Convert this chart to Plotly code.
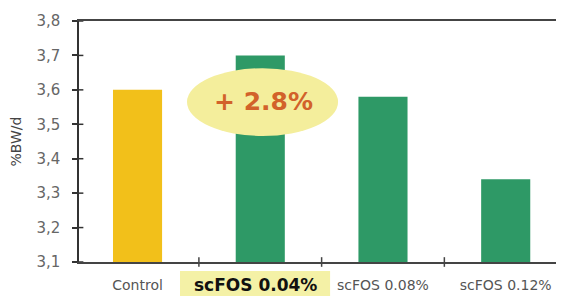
import plotly.graph_objects as go

categories = ["Control", "scFOS 0.04%", "scFOS 0.08%", "scFOS 0.12%"]
values = [3.60, 3.70, 3.58, 3.34]
bar_colors = ["#F2C01A", "#2E9966", "#2E9966", "#2E9966"]
y_ticks = [3.1, 3.2, 3.3, 3.4, 3.5, 3.6, 3.7, 3.8]
y_tick_labels = ["3,1", "3,2", "3,3", "3,4", "3,5", "3,6", "3,7", "3,8"]
x_tick_labels = ["Control", "", "scFOS 0.08%", "scFOS 0.12%"]
highlight_label = "scFOS 0.04%"
badge_text = "+ 2.8%"
y_title = "%BW/d"

xpos = list(range(len(categories)))

fig = go.Figure()
fig.add_trace(go.Bar(x=xpos, y=values, marker=dict(color=bar_colors, line=dict(width=0)),
                     width=0.4))

# page body has an 8px default margin, so figure is 8px smaller and offset
fig.update_layout(
    width=556, height=288,
    margin=dict(l=71, r=0, t=13, b=34, autoexpand=False),
    paper_bgcolor="white", plot_bgcolor="white",
    showlegend=False,
    font=dict(family="DejaVu Sans", size=14, color="#555555"),
)
fig.update_xaxes(
    range=[-0.477, 3.475], automargin=False,
    tickmode="array", tickvals=xpos, ticktext=x_tick_labels,
    showline=True, linecolor="#444444", linewidth=1.5, mirror=True,
    ticks="", showgrid=False, zeroline=False,
    ticklabelstandoff=9,
    tickfont=dict(family="DejaVu Sans", size=14, color="#555555"),
)
fig.update_yaxes(
    range=[3.1, 3.8], automargin=False,
    tickmode="array", tickvals=y_ticks, ticktext=y_tick_labels,
    showline=True, linecolor="#333333", linewidth=1.5,
    ticks="outside", ticklen=5, tickcolor="#333333", tickwidth=1.5,
    ticklabelstandoff=9,
    showgrid=False, zeroline=False,
    tickfont=dict(family="DejaVu Sans", size=15, color="#666666"),
)

# y-axis title
fig.add_annotation(x=-0.13, y=0.5, xref="paper", yref="paper", xanchor="center", yanchor="middle",
                   text=y_title, textangle=-90,
                   showarrow=False, font=dict(family="DejaVu Sans", size=14, color="#444444"))

# inner halves of y ticks (ticks cross the axis)
for t in y_ticks:
    fig.add_shape(type="line", xref="paper", yref="y", x0=0, x1=0.009, y0=t, y1=t,
                  line=dict(color="#333333", width=1.5))

# category boundary ticks on x axis
for b in [0.5, 1.5, 2.5]:
    fig.add_shape(type="line", xref="x", yref="paper", x0=b, x1=b, y0=-0.02, y1=0.02,
                  line=dict(color="#444444", width=1.5))

# highlight ellipse
fig.add_shape(type="circle", xref="x", yref="y", x0=0.403, x1=1.634, y0=3.466, y1=3.663,
              fillcolor="#F4EE9C", line=dict(width=0), layer="above")
fig.add_annotation(x=1.03, y=3.566, xref="x", yref="y", text="<b>" + badge_text + "</b>",
                   showarrow=False, font=dict(family="DejaVu Sans", size=25, color="#D2622A"))

# highlighted tick label
fig.add_shape(type="rect", xref="x", yref="paper", x0=0.346, x1=1.569, y0=-0.037, y1=-0.16,
              fillcolor="#F4F1A6", line=dict(width=0), layer="above")
fig.add_annotation(x=0.96, y=-0.095, xref="x", yref="paper", yanchor="middle",
                   text="<b>" + highlight_label + "</b>", showarrow=False,
                   font=dict(family="DejaVu Sans", size=17, color="#111111"))

fig.write_html("out.html")
